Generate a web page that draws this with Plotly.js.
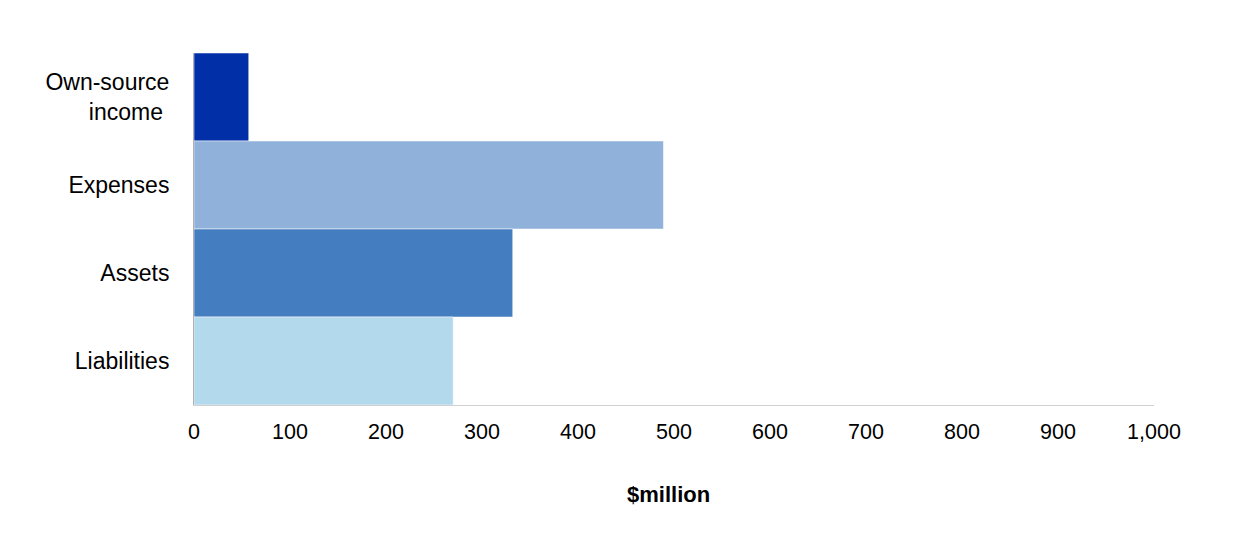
<!DOCTYPE html>
<html>
<head>
<meta charset="utf-8">
<script src="https://cdn.plot.ly/plotly-3.0.1.min.js"></script>
<style>html,body{margin:0;padding:0;background:#fff;}#chart{width:1236px;height:537px;}</style>
</head>
<body>
<div id="chart"></div>
<script>
var categories = ["Own-source<br>income\u00A0", "Expenses", "Assets", "Liabilities"];
var values = [57, 489, 332, 270];
var barColors = ["#002FA8", "#8FB1DA", "#447EC0", "#B3D9EC"];
var tickVals = [0, 100, 200, 300, 400, 500, 600, 700, 800, 900, 1000];
var tickText = ["0", "100", "200", "300", "400", "500", "600", "700", "800", "900", "1,000"];
var xTitle = "$million";

var trace = {
  type: "bar",
  orientation: "h",
  y: categories,
  x: values,
  marker: {color: barColors, line: {color: "rgba(255,255,255,0.5)", width: 1}},
  hoverinfo: "x+y"
};

var layout = {
  width: 1236,
  height: 537,
  margin: {l: 194, r: 82, t: 53, b: 132},
  paper_bgcolor: "#ffffff",
  plot_bgcolor: "#ffffff",
  font: {family: "Liberation Sans, Arial, sans-serif", size: 21.5, color: "#000000"},
  bargap: 0,
  showlegend: false,
  xaxis: {
    range: [0, 1000],
    tickvals: tickVals,
    ticktext: tickText,
    showgrid: false,
    zeroline: false,
    showline: true,
    linecolor: "#d0d0d0",
    linewidth: 1,
    ticks: "outside",
    ticklen: 7,
    tickcolor: "rgba(0,0,0,0)",
    tickfont: {size: 21.5, color: "#000"},
    fixedrange: true
  },
  yaxis: {
    autorange: "reversed",
    showgrid: false,
    zeroline: false,
    showline: true,
    linecolor: "#b0b0b0",
    linewidth: 1,
    ticks: "outside",
    ticklen: 19,
    tickcolor: "rgba(0,0,0,0)",
    tickfont: {size: 23, color: "#000"},
    fixedrange: true
  },
  annotations: [{
    text: "<b>" + xTitle + "</b>",
    xref: "paper", yref: "paper",
    x: 0.494, y: -0.253,
    xanchor: "center", yanchor: "middle",
    showarrow: false,
    font: {size: 22, color: "#000"}
  }]
};

Plotly.newPlot("chart", [trace], layout, {displayModeBar: false, staticPlot: true});
</script>
</body>
</html>
